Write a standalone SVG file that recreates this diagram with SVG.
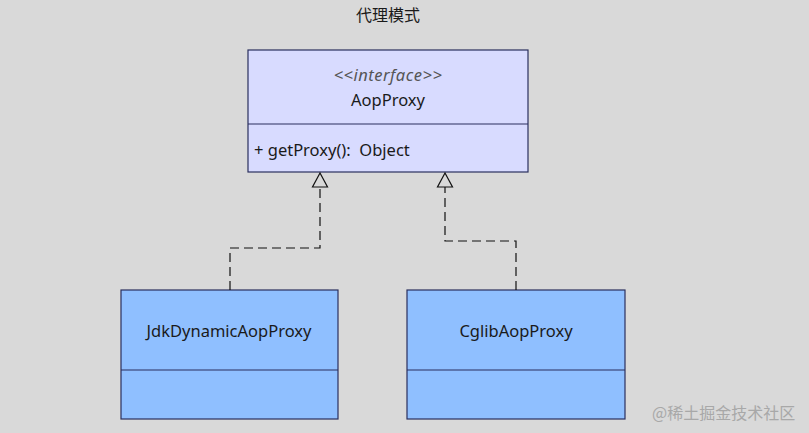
<svg xmlns="http://www.w3.org/2000/svg" width="809" height="433" viewBox="0 0 809 433">
<defs>
<style>
.t{font-family:"Noto Sans","Open Sans","Liberation Sans","Noto Sans CJK SC",sans-serif;font-size:16.5px;fill:#1a1a1a}
.c{text-anchor:middle}
.box{stroke:#2a2f5e;stroke-width:1.2}
.iface{fill:#d8dbff}
.cls{fill:#8fbfff}
.dash{fill:none;stroke:#111;stroke-width:1.2;stroke-dasharray:9,5}
.head{fill:#d9d9d9;stroke:#111;stroke-width:1.2}
</style>
</defs>
<rect width="809" height="433" fill="#d9d9d9"/>
<text x="388" y="21" text-anchor="middle" style="font-family:'Noto Sans CJK SC',sans-serif;font-size:16px;fill:#1a1a1a">代理模式</text>
<g id="AopProxy">
<rect class="box iface" x="248" y="50" width="280" height="122"/>
<line class="box" x1="248" y1="124" x2="528" y2="124"/>
<text class="t c" x="388" y="81" style="font-style:italic;fill:#555;letter-spacing:0.5px">&lt;&lt;interface&gt;&gt;</text>
<text class="t c" x="388" y="106">AopProxy</text>
<text class="t" x="254" y="156" xml:space="preserve">+ getProxy():  Object</text>
</g>
<g id="JdkDynamicAopProxy">
<rect class="box cls" x="121" y="290" width="217" height="129"/>
<line class="box" x1="121" y1="370" x2="338" y2="370"/>
<text class="t c" x="229" y="337">JdkDynamicAopProxy</text>
</g>
<g id="CglibAopProxy">
<rect class="box cls" x="407" y="290" width="218" height="129"/>
<line class="box" x1="407" y1="370" x2="625" y2="370"/>
<text class="t c" x="516" y="337">CglibAopProxy</text>
</g>
<g id="connectors">
<path class="dash" d="M230,290 V248 H320 V187"/>
<path class="dash" d="M516,290 V241 H445 V187"/>
<path class="head" d="M320,173 L312.5,187 L327.5,187 Z"/>
<path class="head" d="M445,173 L437.5,187 L452.5,187 Z"/>
</g>
<text x="652" y="419" style="font-family:'Noto Sans CJK SC',sans-serif;font-size:16px;fill:#a8a8a8">@稀土掘金技术社区</text>
</svg>
